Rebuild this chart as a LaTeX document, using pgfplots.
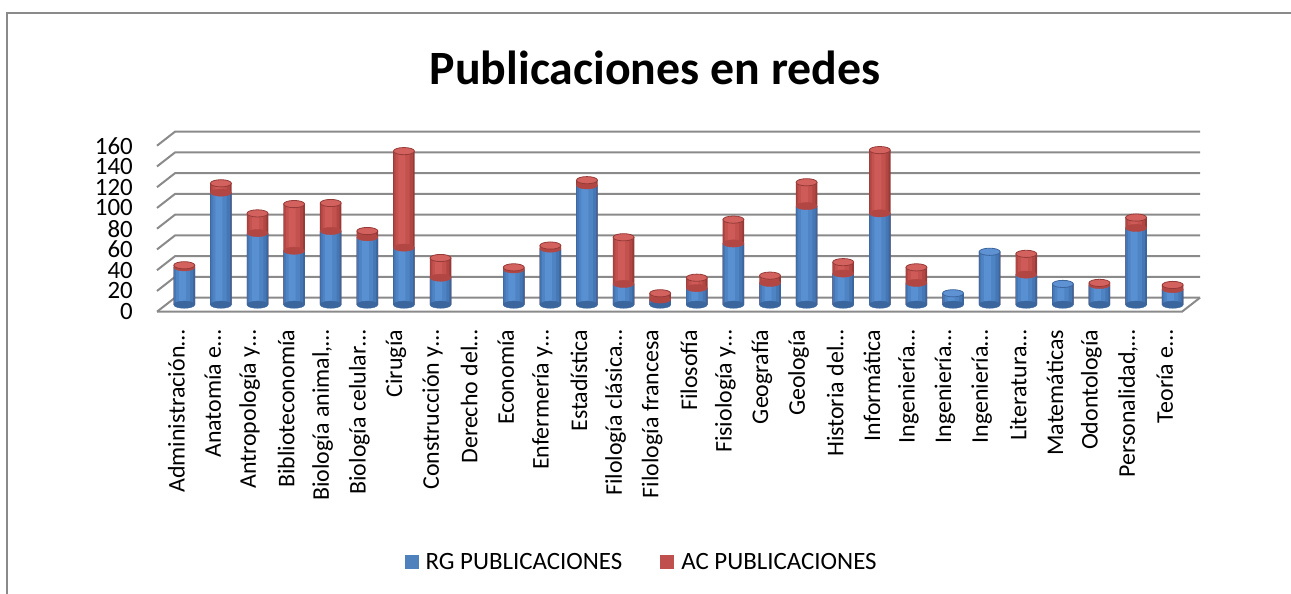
\documentclass[border=0pt]{standalone}
\usepackage{pgfplots}
\usepackage{pgfplotstable}
\pgfplotsset{compat=1.18}
\usepackage{fontspec}
\setmainfont{Carlito}
\definecolor{rgb}{HTML}{4F81BD}
\definecolor{rg1}{HTML}{3B659D}
\definecolor{rg2}{HTML}{4677B5}
\definecolor{rg3}{HTML}{4F84C4}
\definecolor{rg4}{HTML}{5890D2}
\definecolor{rgc}{HTML}{5E92D3}
\definecolor{acb}{HTML}{C0504D}
\definecolor{ac1}{HTML}{963A37}
\definecolor{ac2}{HTML}{B24643}
\definecolor{ac3}{HTML}{C3514D}
\definecolor{ac4}{HTML}{CE5B57}
\definecolor{acc}{HTML}{D3625E}
\definecolor{gridc}{HTML}{8A8A8A}
\pgfdeclareplotmark{cap}{\pgfpathellipse{\pgfpointorigin}{\pgfpoint{10.5bp}{0pt}}{\pgfpoint{0pt}{3.6bp}}\pgfusepathqfillstroke}
\pgfplotstableread{
idx RG AC cap
0 36 2 r
1 108 9 r
2 69 19 r
3 52 45 r
4 71 27 r
5 65 6 r
6 55 93 r
7 26 19 r
8 0 0 n
9 34 2 r
10 54 3 r
11 115 5 r
12 20 45 r
13 5 6 r
14 16 10 r
15 59 23 r
16 21 7 r
17 95 23 r
18 30 11 r
19 88 61 r
20 21 15 r
21 11 0 b
22 51 0 b
23 29 20 r
24 20 0 b
25 19 2 r
26 74 10 r
27 15 4 r
}\datatable
\begin{document}
\begin{tikzpicture}[x=1bp,y=1bp]
\useasboundingbox (0,0) rectangle (1291,594);
% chart border
\draw[gridc, line width=2bp] (6.5,-20) -- (6.5,581) -- (1320,581);
% title
\node[font=\fontsize{48}{50}\selectfont\bfseries] at (655,526) {Publicaciones en redes};
% back wall gridlines and floor
\foreach \v in {0,20,...,160}{
  \draw[gridc, line width=2bp] (157,{282.3+1.0375*\v}) -- (175,{296.3+1.0375*\v}) -- (1200,{296.3+1.0375*\v});
}
\draw[gridc, line width=2bp] (157,282.3) -- (1182,282.3) -- (1200,296.3);
\begin{axis}[
  at={(166bp,289.3bp)}, anchor=south west,
  scale only axis, width=1025bp, height=166bp,
  xmin=-0.5, xmax=27.5, ymin=0, ymax=160,
  axis line style={draw=none},
  major tick length=0pt,
  clip=false,
  ytick={0,20,...,160},
  xtick={0,...,27},
  xticklabels={Administración…,Anatomía e…,Antropología y…,Biblioteconomía,{Biología animal,…},Biología celular…,Cirugía,Construcción y…,Derecho del…,Economía,Enfermería y…,Estadística,Filología clásica…,Filología francesa,Filosofía,Fisiología y…,Geografía,Geología,Historia del…,Informática,Ingeniería…,Ingeniería…,Ingeniería…,Literatura…,Matemáticas,Odontología,{Personalidad,…},Teoría e…},
  yticklabel style={font=\fontsize{25}{25}\selectfont, inner sep=0pt, anchor=east, xshift=-33bp, yshift=-7bp},
  xticklabel style={font=\fontsize{24}{24}\selectfont, inner sep=0pt, xshift=-8bp, yshift=-25bp, rotate=90, anchor=east},
  /pgf/number format/assume math mode=true,
  legend style={draw=none, fill=none, at={(0.463,-1.55)}, anchor=center, font=\fontsize{25}{25}\selectfont, legend columns=2,
    nodes={inner sep=0pt},
    /tikz/column 1/.style={column sep=7bp},
    /tikz/column 2/.style={column sep=38bp},
    /tikz/column 3/.style={column sep=7bp}},
  legend image code/.code={\path[#1] (0bp,-7bp) rectangle (14bp,7bp);},
  barl/.style={ybar, bar shift=0pt, draw=none, forget plot, skip coords between index={8}{9}},
  capl/.style={only marks, forget plot, scatter, scatter src=explicit symbolic},
]
% rounded bottoms of the cylinders
\addplot[capl, scatter/classes={r={mark=cap,draw=rg1,fill=rg1},b={mark=cap,draw=rg1,fill=rg1},n={mark=none}}]
  table[x=idx,y expr=0,meta=cap]{\datatable};
% AC segments (drawn to the stack total, then covered by RG)
\addplot[barl, bar width=21.5bp, fill=ac1] table[x=idx,y expr=\thisrow{RG}+\thisrow{AC}]{\datatable};
\addplot[barl, bar width=19bp, bar shift=-0.6bp, fill=ac2] table[x=idx,y expr=\thisrow{RG}+\thisrow{AC}]{\datatable};
\addplot[barl, bar width=14bp, bar shift=-1.2bp, fill=ac3] table[x=idx,y expr=\thisrow{RG}+\thisrow{AC}]{\datatable};
\addplot[barl, bar width=7bp, bar shift=-2bp, fill=ac4] table[x=idx,y expr=\thisrow{RG}+\thisrow{AC}]{\datatable};
% RG segments
\addplot[barl, bar width=21.5bp, fill=rg1] table[x=idx,y=RG]{\datatable};
\addplot[barl, bar width=19bp, bar shift=-0.6bp, fill=rg2] table[x=idx,y=RG]{\datatable};
\addplot[barl, bar width=14bp, bar shift=-1.2bp, fill=rg3] table[x=idx,y=RG]{\datatable};
\addplot[barl, bar width=7bp, bar shift=-2bp, fill=rg4] table[x=idx,y=RG]{\datatable};
% bottom edge of the AC cylinder
\addplot[capl, scatter/classes={r={mark=cap,draw=ac2,fill=ac2},b={mark=none},n={mark=none}}]
  table[x=idx,y=RG,meta=cap]{\datatable};
% top caps
\addplot[capl, scatter/classes={r={mark=cap,draw=ac1,line width=0.8bp,fill=acc},b={mark=cap,draw=rg1,line width=0.8bp,fill=rgc},n={mark=none}}]
  table[x=idx,y expr=\thisrow{RG}+\thisrow{AC},meta=cap]{\datatable};
\addlegendimage{fill=rgb, draw=none}
\addlegendentry{RG PUBLICACIONES}
\addlegendimage{fill=acb, draw=none}
\addlegendentry{AC PUBLICACIONES}
\end{axis}
\end{tikzpicture}
\end{document}
